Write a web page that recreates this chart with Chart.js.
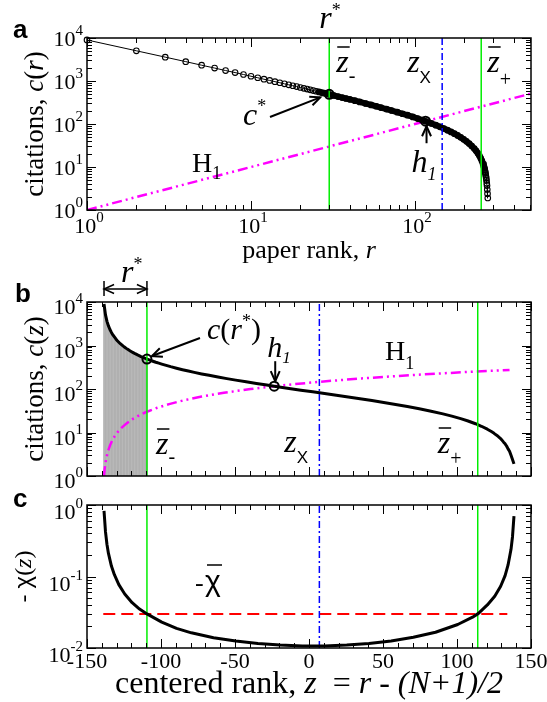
<!DOCTYPE html>
<html lang="en">
<head>
<meta charset="UTF-8">
<title>Citation rank profile</title>
<script src="https://cdn.jsdelivr.net/npm/chart.js"></script>
<style>
  body { margin: 0; background: #fff; }
  #fig { position: relative; width: 547px; height: 702px; overflow: hidden; }
  #fig canvas { position: absolute; left: 0; }
</style>
</head>
<body>
<div id="fig">
  <canvas id="panelA" width="547" height="270" style="top:0px"></canvas>
  <canvas id="panelB" width="547" height="245" style="top:250px"></canvas>
  <canvas id="panelC" width="547" height="212" style="top:490px"></canvas>
</div>
<script>
// ---- values ----
const N = 278;            // papers
const rStar = 30;         // r*  (left green line, z-)
const rCross = 146.5;     // z_x (blue dash-dot) as a rank
const rPlus = 253.5;      // z+  (right green line) as a rank
const hIndex = 116;       // h_1
const cStar = 489;        // c(r*)

const ranks = [1, 2, 3, 4, 5, 6, 7, 8, 9, 10, 11, 12, 13, 14, 15, 16, 17, 18, 19, 20,
  21, 22, 23, 24, 25, 26, 27, 28, 29, 30, 32, 34, 36, 38, 40, 43, 46, 50, 54, 58, 62, 67,
  72, 78, 84, 90, 97, 104, 111, 116, 126, 134, 142, 150, 158, 166, 174, 182, 190, 198,
  206, 214, 222, 230, 236, 242, 247, 252, 256, 260, 263, 264, 265, 266, 267, 268, 269,
  270, 271, 272, 273, 274, 275, 276, 277, 278];
const cites = [9000, 5040, 3590, 2820, 2330, 2000, 1750, 1570, 1415, 1290, 1190, 1100,
  1030, 966, 910, 859, 815, 775, 740, 706, 676, 648, 623, 599, 578, 557, 538, 521, 505,
  489, 460, 435, 412, 392, 374, 349, 326, 300, 278, 259, 241, 222, 206, 188, 173, 160,
  146, 134, 123, 116, 103, 94, 86, 78.6, 71.7, 65.4, 59.5, 54.1, 48.9, 44.1, 39.5, 35.1,
  30.8, 26.8, 23.8, 20.8, 18.4, 15.9, 13.9, 11.9, 10.4, 9.9, 9.3, 8.8, 8.3, 7.7, 7.2,
  6.6, 6.0, 5.5, 4.9, 4.2, 3.7, 3.0, 2.4, 1.9];

// H1 line (c = r)
const h1LineA = [1, 510];
const h1Ranks = [1, 1.15, 1.35, 1.6, 2, 2.5, 3.2, 4, 5, 6.5, 8, 10, 13, 16, 20, 25, 30,
  37, 45, 55, 67, 82, 100, 120, 145, 175, 210, 245, 275];

// panel c: -chi(z)
const chiZ = [-138.5, -137.5, -136.5, -135.5, -133.5, -131.5, -128.5, -124.5, -119.5,
  -114.5, -109.5, -99.5, -89.5, -79.5, -64.5, -49.5, -34.5, -19.5, -4.5, 10.5, 25.5, 40.5,
  55.5, 70.5, 85.5, 100.5, 110.5, 114.5, 120.5, 125.5, 129.5, 132.5, 134.5, 136.5, 137.5, 138.5];
const chiVal = [0.83, 0.42, 0.28, 0.21, 0.14, 0.106, 0.077, 0.057, 0.043, 0.035, 0.030,
  0.023, 0.0188, 0.0163, 0.0139, 0.0125, 0.0116, 0.0110, 0.0107, 0.0107, 0.0110, 0.0116,
  0.0125, 0.0141, 0.0166, 0.0213, 0.0270, 0.0305, 0.040, 0.053, 0.073, 0.103, 0.145,
  0.24, 0.36, 0.70];
const chiBar = 0.03;
const chiBarSpan = [-139, 134];

// tick labels
const expAx = [0, 1, 2];
const expAy = [0, 1, 2, 3, 4];
const expBy = [0, 1, 2, 3, 4];
const expCy = [0, -1, -2];
const zTicks = [-150, -100, -50, 0, 50, 100, 150];

// ---- helpers ----
const zShift = (N + 1) / 2;
const SERIF = '"Liberation Serif", "Times New Roman", serif';
const SANS = '"Liberation Sans", Arial, sans-serif';
const font = (size, style) => (style ? style + ' ' : '') + size + 'px ' + SERIF;
const GREEN = '#00ee00', BLUE = '#0000ff', MAGENTA = '#ff00ff', RED = '#ff0000';

function runs(ctx, parts, x, y, align) {
  let w = 0;
  parts.forEach(p => { ctx.font = p.f; p.w = ctx.measureText(p.t).width; w += p.w; });
  let cx = align === 'center' ? x - w / 2 : align === 'right' ? x - w : x;
  ctx.textAlign = 'left';
  ctx.textBaseline = 'alphabetic';
  parts.forEach(p => { ctx.font = p.f; ctx.fillText(p.t, cx, y + (p.dy || 0)); cx += p.w; });
  return w;
}
function vruns(ctx, parts, x, y) {
  ctx.save(); ctx.translate(x, y); ctx.rotate(-Math.PI / 2);
  runs(ctx, parts, 0, 0, 'center');
  ctx.restore();
}
function sup(ctx, e, x, y, align) {
  runs(ctx, [{t: '10', f: font(22)}, {t: String(e), f: font(15), dy: -11}], x, y, align);
}
function head(ctx, x1, y1, x2, y2) {
  const a = Math.atan2(y2 - y1, x2 - x1), h = 11, w = 0.42;
  ctx.beginPath();
  ctx.moveTo(x2 - h * Math.cos(a - w), y2 - h * Math.sin(a - w));
  ctx.lineTo(x2, y2);
  ctx.lineTo(x2 - h * Math.cos(a + w), y2 - h * Math.sin(a + w));
  ctx.stroke();
}
function arrow(ctx, x1, y1, x2, y2) {
  ctx.lineWidth = 2;
  ctx.beginPath(); ctx.moveTo(x1, y1); ctx.lineTo(x2, y2); ctx.stroke();
  head(ctx, x1, y1, x2, y2);
}
function zbar(ctx, x, y, sub, subDy, subFont) {
  ctx.font = font(32, 'italic');
  const w = ctx.measureText('z').width;
  ctx.textAlign = 'left';
  ctx.fillText('z', x, y);
  ctx.lineWidth = 1.5;
  ctx.beginPath(); ctx.moveTo(x + 1, y - 25); ctx.lineTo(x + w + 1, y - 25); ctx.stroke();
  ctx.font = subFont || font(20);
  ctx.fillText(sub, x + w, y + subDy);
}
function logTicks(min, max) {
  const major = [], minor = [];
  for (let k = Math.floor(Math.log10(min)); k <= Math.ceil(Math.log10(max)); k++) {
    for (let m = 1; m < 10; m++) {
      const v = m * Math.pow(10, k);
      if (v < min * 0.999 || v > max * 1.001) continue;
      (m === 1 ? major : minor).push(v);
    }
  }
  return {major, minor};
}
function linTicks(min, max) {
  const major = [], minor = [];
  for (let v = min; v <= max; v += 10) (v % 50 === 0 ? major : minor).push(v);
  return {major, minor};
}
function vline(x, y0, y1, color, width, dash) {
  return {data: [{x: x, y: y0}, {x: x, y: y1}], borderColor: color, borderWidth: width,
    borderDash: dash || [], pointRadius: 0, fill: false};
}
function marker(x, y) {
  return {data: [{x: x, y: y}], showLine: false, pointRadius: 4.5, pointBorderWidth: 2,
    pointBorderColor: '#000', pointBackgroundColor: 'rgba(0,0,0,0)', clip: false};
}

function makeFrame(cfg) {
  return {
    id: 'frame',
    afterDatasetsDraw(chart) {
      const ctx = chart.ctx, a = chart.chartArea, xs = chart.scales.x, ys = chart.scales.y;
      ctx.save();
      ctx.strokeStyle = '#000';
      ctx.fillStyle = '#000';
      ctx.lineWidth = 1;
      ctx.beginPath();
      const xt = (list, len) => list.forEach(v => {
        const p = Math.round(xs.getPixelForValue(v)) + 0.5;
        ctx.moveTo(p, a.bottom); ctx.lineTo(p, a.bottom - len);
        ctx.moveTo(p, a.top); ctx.lineTo(p, a.top + len);
      });
      const yt = (list, len) => list.forEach(v => {
        const p = Math.round(ys.getPixelForValue(v)) + 0.5;
        ctx.moveTo(a.left, p); ctx.lineTo(a.left + len, p);
        ctx.moveTo(a.right, p); ctx.lineTo(a.right - len, p);
      });
      xt(cfg.x.major, 9); xt(cfg.x.minor, 5);
      yt(cfg.y.major, 9); yt(cfg.y.minor, 5);
      ctx.stroke();
      ctx.lineWidth = 1.5;
      ctx.strokeRect(a.left, a.top, a.right - a.left, a.bottom - a.top);
      cfg.decorate(ctx, xs, ys, a);
      ctx.restore();
    }
  };
}

function baseOptions(pad, xScale, yScale) {
  return {
    responsive: false,
    animation: false,
    events: [],
    layout: {padding: pad},
    plugins: {legend: {display: false}, tooltip: {enabled: false}},
    elements: {line: {tension: 0}},
    scales: {
      x: Object.assign({display: false, offset: false}, xScale),
      y: Object.assign({display: false}, yScale)
    }
  };
}

// ---- panel a ----
const citePts = ranks.map((r, i) => ({x: r, y: cites[i]}));
new Chart(document.getElementById('panelA'), {
  type: 'line',
  data: {datasets: [
    marker(rStar, cStar),
    marker(hIndex, hIndex),
    vline(rStar, 1, 1e4, GREEN, 1.5),
    vline(rPlus, 1, 1e4, GREEN, 1.5),
    vline(rCross, 1, 1e4, BLUE, 1.5, [7, 3, 2, 3]),
    {data: citePts, borderColor: '#000', borderCapStyle: 'round', borderJoinStyle: 'round',
      segment: {borderWidth: s => (s.p0.parsed.x >= 26 && s.p1.parsed.x <= 264) ? 6 : 1},
      pointRadius: 2.8, pointBorderWidth: 1.1, pointBorderColor: '#000',
      pointBackgroundColor: 'rgba(0,0,0,0)', clip: false},
    {data: h1LineA.map(v => ({x: v, y: v})), borderColor: MAGENTA, borderWidth: 2.5,
      borderDash: [10, 4, 2, 4, 2, 4], pointRadius: 0}
  ]},
  options: baseOptions({left: 87, right: 16, top: 38, bottom: 60},
    {type: 'logarithmic', min: 1, max: 510}, {type: 'logarithmic', min: 1, max: 1e4}),
  plugins: [makeFrame({
    x: logTicks(1, 510), y: logTicks(1, 1e4),
    decorate(ctx, xs, ys, a) {
      ctx.font = 'bold 26px ' + SANS; ctx.fillText('a', 13, 38);
      expAx.forEach(e => sup(ctx, e, xs.getPixelForValue(Math.pow(10, e)) + 2, a.bottom + 23, 'center'));
      expAy.forEach(e => sup(ctx, e, a.left - 4, ys.getPixelForValue(Math.pow(10, e)) + 8, 'right'));
      runs(ctx, [{t: 'paper rank, ', f: font(26)}, {t: 'r', f: font(26, 'italic')}],
        (a.left + a.right) / 2, 258, 'center');
      vruns(ctx, [{t: 'citations, ', f: font(27)}, {t: 'c', f: font(27, 'italic')},
        {t: '(', f: font(27)}, {t: 'r', f: font(27, 'italic')}, {t: ')', f: font(27)}],
        43, (a.top + a.bottom) / 2);
      const gx = xs.getPixelForValue(rStar), px = xs.getPixelForValue(rPlus),
        bx = xs.getPixelForValue(rCross);
      runs(ctx, [{t: 'r', f: font(32, 'italic')}, {t: '*', f: font(18), dy: -12}], gx - 10, 28);
      zbar(ctx, gx + 7, 72, '-', 10);
      zbar(ctx, px + 6, 72, '+', 14);
      runs(ctx, [{t: 'z', f: font(32, 'italic')}, {t: 'X', f: '17px ' + SANS, dy: 11}], bx - 35, 72);
      // c*
      runs(ctx, [{t: 'c', f: font(32, 'italic')}, {t: '*', f: font(18), dy: -13}], 243, 125);
      arrow(ctx, 270, 117, gx - 9, ys.getPixelForValue(cStar) + 3);
      // h1
      const hx = xs.getPixelForValue(hIndex) + 1, hy = ys.getPixelForValue(hIndex);
      arrow(ctx, hx, hy + 22, hx, hy + 5);
      runs(ctx, [{t: 'h', f: font(32, 'italic')}, {t: '1', f: font(18, 'italic'), dy: 8}], hx - 15, hy + 51);
      runs(ctx, [{t: 'H', f: font(28)}, {t: '1', f: font(18), dy: 7}], 192, 172);
    }
  })]
});

// ---- panel b ----
const zPts = ranks.map((r, i) => ({x: r - zShift, y: cites[i]}));
const shadeIdx = ranks.map((r, i) => i).filter(i => ranks[i] <= rStar);
new Chart(document.getElementById('panelB'), {
  type: 'line',
  data: {datasets: [
    marker(rStar - zShift, cStar),
    marker(hIndex - zShift, hIndex),
    vline(rStar - zShift, 1, 1e4, GREEN, 1.5),
    vline(rPlus - zShift, 1, 1e4, GREEN, 1.5),
    vline(rCross - zShift, 1, 1e4, BLUE, 1.5, [7, 3, 2, 3]),
    {data: zPts, borderColor: '#000', borderWidth: 3, borderJoinStyle: 'round', pointRadius: 0},
    {data: h1Ranks.map(r => ({x: r - zShift, y: r})), borderColor: MAGENTA, borderWidth: 2.5,
      borderDash: [10, 4, 2, 4, 2, 4], pointRadius: 0},
    {type: 'bar', data: shadeIdx.map(i => ({x: ranks[i] - zShift, y: [1, cites[i]]})),
      backgroundColor: '#b0b0b0', barThickness: 1, grouped: false},
    {data: shadeIdx.map(i => ({x: ranks[i] - zShift, y: cites[i]})), borderWidth: 0,
      pointRadius: 0, fill: 'start', backgroundColor: '#e4e4e4'}
  ]},
  options: baseOptions({left: 87, right: 16, top: 52, bottom: 19},
    {type: 'linear', min: -150, max: 150}, {type: 'logarithmic', min: 1, max: 1e4}),
  plugins: [makeFrame({
    x: linTicks(-150, 150), y: logTicks(1, 1e4),
    decorate(ctx, xs, ys, a) {
      ctx.font = 'bold 26px ' + SANS; ctx.fillText('b', 15, 52);
      expBy.forEach(e => sup(ctx, e, a.left - 4, ys.getPixelForValue(Math.pow(10, e)) + 12, 'right'));
      vruns(ctx, [{t: 'citations, ', f: font(27)}, {t: 'c', f: font(27, 'italic')},
        {t: '(', f: font(27)}, {t: 'z', f: font(27, 'italic')}, {t: ')', f: font(27)}],
        43, (a.top + a.bottom) / 2);
      const x1 = xs.getPixelForValue(ranks[0] - zShift), x2 = xs.getPixelForValue(rStar - zShift);
      // r* span
      ctx.lineWidth = 1.5;
      ctx.beginPath();
      ctx.moveTo(x1, 31); ctx.lineTo(x1, 46); ctx.moveTo(x2, 31); ctx.lineTo(x2, 46);
      ctx.moveTo(x1, 39); ctx.lineTo(x2, 39);
      ctx.stroke();
      head(ctx, x2, 39, x1, 39); head(ctx, x1, 39, x2, 39);
      runs(ctx, [{t: 'r', f: font(32, 'italic')}, {t: '*', f: font(18), dy: -12}], 121, 32);
      // c(r*)
      runs(ctx, [{t: 'c', f: font(30, 'italic')}, {t: '(', f: font(30)}, {t: 'r', f: font(30, 'italic')},
        {t: '*', f: font(18), dy: -12}, {t: ')', f: font(30)}], 207, 89);
      arrow(ctx, 200, 88, x2 + 5, ys.getPixelForValue(cStar) - 3);
      // h1
      const hx = xs.getPixelForValue(hIndex - zShift) + 1, hy = ys.getPixelForValue(hIndex);
      arrow(ctx, hx, hy - 25, hx, hy - 5);
      runs(ctx, [{t: 'h', f: font(30, 'italic')}, {t: '1', f: font(17, 'italic'), dy: 6}], hx - 8, hy - 29);
      runs(ctx, [{t: 'H', f: font(28)}, {t: '1', f: font(18), dy: 9}], 385, 110);
      const gm = xs.getPixelForValue(rStar - zShift), gp = xs.getPixelForValue(rPlus - zShift),
        bx = xs.getPixelForValue(rCross - zShift);
      zbar(ctx, gm + 9, 204, '-', 9);
      zbar(ctx, gp - 40, 203, '+', 12);
      runs(ctx, [{t: 'z', f: font(32, 'italic')}, {t: 'X', f: '17px ' + SANS, dy: 11}], bx - 35, 202);
    }
  })]
});

// ---- panel c ----
new Chart(document.getElementById('panelC'), {
  type: 'line',
  data: {datasets: [
    {data: chiZ.map((z, i) => ({x: z, y: chiVal[i]})), borderColor: '#000', borderWidth: 3,
      borderJoinStyle: 'round', pointRadius: 0},
    vline(rStar - zShift, 0.01, 1, GREEN, 1.5),
    vline(rPlus - zShift, 0.01, 1, GREEN, 1.5),
    vline(rCross - zShift, 0.01, 1, BLUE, 1.5, [7, 3, 2, 3]),
    {data: chiBarSpan.map(z => ({x: z, y: chiBar})), borderColor: RED, borderWidth: 2,
      borderDash: [12, 6], pointRadius: 0}
  ]},
  options: baseOptions({left: 87, right: 16, top: 15, bottom: 54},
    {type: 'linear', min: -150, max: 150}, {type: 'logarithmic', min: 0.01, max: 1}),
  plugins: [makeFrame({
    x: linTicks(-150, 150), y: logTicks(0.01, 1),
    decorate(ctx, xs, ys, a) {
      ctx.font = 'bold 26px ' + SANS; ctx.fillText('c', 13, 17);
      expCy.forEach(e => sup(ctx, e, a.left - 4, ys.getPixelForValue(Math.pow(10, e)) + 14, 'right'));
      ctx.font = font(22); ctx.textAlign = 'center';
      zTicks.forEach(v => ctx.fillText(String(v), xs.getPixelForValue(v), a.bottom + 20));
      runs(ctx, [{t: 'centered rank, ', f: font(32)}, {t: 'z', f: font(32, 'italic')},
        {t: '  = ', f: font(32)}, {t: 'r - (N+1)/2', f: font(32, 'italic')}],
        (a.left + a.right) / 2, 203, 'center');
      vruns(ctx, [{t: '- ', f: font(24)}, {t: 'χ', f: '24px ' + SANS}, {t: '(', f: font(24)},
        {t: 'z', f: font(24, 'italic')}, {t: ')', f: font(24)}], 31, (a.top + a.bottom) / 2);
      // -chi bar label
      ctx.textAlign = 'left';
      ctx.font = font(26); ctx.fillText('-', 195, 101);
      ctx.font = '30px ' + SANS; ctx.fillText('χ', 205, 101);
      ctx.lineWidth = 1.5;
      ctx.beginPath(); ctx.moveTo(207, 75); ctx.lineTo(222, 75); ctx.stroke();
    }
  })]
});
</script>
</body>
</html>
